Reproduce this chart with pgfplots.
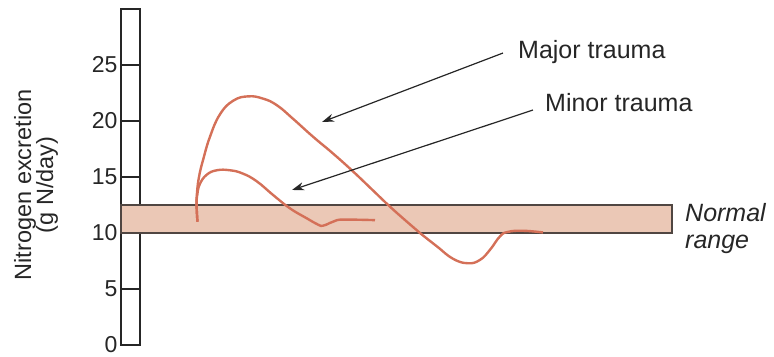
\documentclass[border=0pt]{standalone}
\usepackage{fontspec}
\setmainfont{Liberation Sans}
\usepackage{pgfplots}
\pgfplotsset{compat=1.18}
\usetikzlibrary{arrows.meta}
\definecolor{curve}{RGB}{212,112,88}
\definecolor{bandfill}{RGB}{235,200,182}
\definecolor{banddraw}{RGB}{80,70,66}
\begin{document}
\begin{tikzpicture}
\begin{axis}[
  scale only axis,
  width=653pt, height=336pt,
  xmin=121, xmax=774,
  ymin=0, ymax=30,
  axis x line=none,
  axis y line*=left,
  y axis line style={line width=1.8pt, color=black!85},
  ytick={0,5,10,15,20,25},
  tick align=inside,
  major tick length=19pt,
  ytick style={line width=1.4pt, color=black!85},
  yticklabel style={font=\fontsize{23}{24}\selectfont, color=black!85},
  /pgf/number format/assume math mode=true,
  ylabel={Nitrogen excretion\\(g N/day)},
  ylabel style={at={(axis cs:36,14.3)}, anchor=center, rotate=0, align=center,
    font=\fontsize{23.5}{22}\selectfont, color=black!85},
  clip=false,
]
% bounding box of the whole picture
\path (axis cs:0,-0.982) rectangle (axis cs:774,30.804);
% ruler bar
\addplot[draw=black!85, line width=1.8pt] coordinates {(121,0) (140,0) (140,30) (121,30)} -- cycle;
% normal range band
\addplot[fill=bandfill, draw=banddraw, line width=1.1pt] coordinates {(121,10) (672,10) (672,12.5) (121,12.5)} -- cycle;
% major trauma
\addplot[curve, line width=2.4pt, smooth, tension=0.75] coordinates {
(197.5,11.0) (196.6,12.5) (197.2,13.8) (199.2,15.1) (203,16.5) (210,18.6) (220,20.6)
(233,21.8) (248,22.2) (263,22.0) (277,21.4) (293,20.2) (313,18.6) (333,17.1)
(353,15.5) (373,13.8) (390,12.35) (407,11.0) (420,10.0) (437,8.8) (453,7.7)
(468,7.3) (480,7.6) (490,8.5) (500,9.7) (508,10.1) (523,10.2) (543,10.05)};
% minor trauma
\addplot[curve, line width=2.4pt, smooth, tension=0.75] coordinates {
(197.5,11.0) (196.6,12.5) (197.4,13.5) (200,14.4) (206.7,15.2) (216.7,15.6) (230,15.6)
(243,15.3) (257,14.6) (273,13.4) (290,12.2) (307,11.3) (318,10.75) (323,10.65)
(330,10.9) (337,11.15) (347,11.2) (375,11.15)};
% annotations
\draw[-{Stealth[length=12pt,width=8pt]}, line width=1.2pt, black!85] (axis cs:503,26.07) -- (axis cs:322,19.91);
\draw[-{Stealth[length=12pt,width=8pt]}, line width=1.2pt, black!85] (axis cs:533,20.98) -- (axis cs:292,13.84);
\node[anchor=base west, inner sep=0pt, font=\fontsize{25}{25}\selectfont, color=black!85] at (axis cs:518,25.6) {Major trauma};
\node[anchor=base west, inner sep=0pt, font=\fontsize{25}{25}\selectfont, color=black!85] at (axis cs:545,20.83) {Minor trauma};
\node[anchor=base west, inner sep=0pt, font=\fontsize{25}{25}\selectfont\itshape, color=black!85] at (axis cs:685,11.0) {Normal};
\node[anchor=base west, inner sep=0pt, font=\fontsize{25}{25}\selectfont\itshape, color=black!85] at (axis cs:685,8.63) {range};
\end{axis}
\end{tikzpicture}
\end{document}
